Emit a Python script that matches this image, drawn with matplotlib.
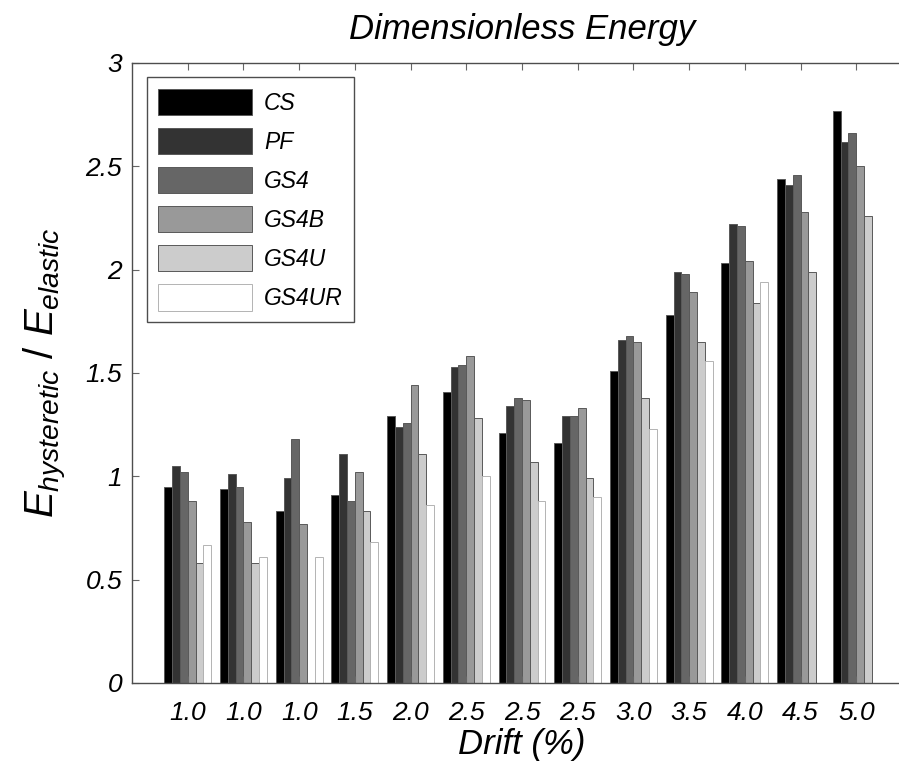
import numpy as np
import matplotlib.pyplot as plt

plt.rcParams['font.family'] = ['Liberation Sans', 'DejaVu Sans']
plt.rcParams['mathtext.fontset'] = 'custom'
plt.rcParams['mathtext.it'] = 'Liberation Sans:italic'
plt.rcParams['mathtext.rm'] = 'Liberation Sans:italic'

# Data
drift = ['1.0', '1.0', '1.0', '1.5', '2.0', '2.5', '2.5', '2.5', '3.0', '3.5', '4.0', '4.5', '5.0']
names = ['CS', 'PF', 'GS4', 'GS4B', 'GS4U', 'GS4UR']
cs    = [0.95, 0.94, 0.83, 0.91, 1.29, 1.41, 1.21, 1.16, 1.51, 1.78, 2.03, 2.44, 2.77]
pf    = [1.05, 1.01, 0.99, 1.11, 1.24, 1.53, 1.34, 1.29, 1.66, 1.99, 2.22, 2.41, 2.62]
gs4   = [1.02, 0.95, 1.18, 0.88, 1.26, 1.54, 1.38, 1.29, 1.68, 1.98, 2.21, 2.46, 2.66]
gs4b  = [0.88, 0.78, 0.77, 1.02, 1.44, 1.58, 1.37, 1.33, 1.65, 1.89, 2.04, 2.28, 2.50]
gs4u  = [0.58, 0.58, 0.00, 0.83, 1.11, 1.28, 1.07, 0.99, 1.38, 1.65, 1.84, 1.99, 2.26]
gs4ur = [0.67, 0.61, 0.61, 0.68, 0.86, 1.00, 0.88, 0.90, 1.23, 1.56, 1.94, 0.00, 0.00]
series = [cs, pf, gs4, gs4b, gs4u, gs4ur]
shades = ['0.0', '0.2', '0.4', '0.6', '0.8', '1.0']

fig = plt.figure(figsize=(8.99, 7.65), dpi=100)
ax = fig.add_axes([132 / 899, 82 / 765, 780 / 899, 620 / 765])

x = np.arange(1, len(drift) + 1)
w = 0.14
for i, (vals, c, n) in enumerate(zip(series, shades, names)):
    ec = '0.35' if i < 5 else '0.7'
    ax.bar(x + (i - 2.5) * w, vals, w, color=c, edgecolor=ec, linewidth=0.7, label=n)

ax.set_xlim(0, 14)
ax.set_ylim(0, 3)
ax.set_xticks(x)
ax.set_xticklabels(drift, fontsize=19, style='italic')
ax.set_yticks([0, 0.5, 1, 1.5, 2, 2.5, 3])
ax.set_yticklabels(['0', '0.5', '1', '1.5', '2', '2.5', '3'], fontsize=19, style='italic')
ax.tick_params(direction='in', length=5, width=0.8, top=True, right=True, color='0.4')
ax.tick_params(axis='x', pad=13)
ax.tick_params(axis='y', pad=7)
for s in ax.spines.values():
    s.set_linewidth(1.0)
    s.set_color('0.3')

ax.set_title('Dimensionless Energy', fontsize=25, style='italic', pad=17)
ax.set_xlabel('Drift (%)', fontsize=25, style='italic', labelpad=2)
ax.set_ylabel(r'$E_{hysteretic}$ / $E_{elastic}$', fontsize=29, labelpad=12)

leg = ax.legend(loc='upper left', bbox_to_anchor=(15 / 780, 0.977), borderaxespad=0,
                handlelength=4.1, handleheight=1.4, labelspacing=0.55,
                handletextpad=0.5, borderpad=0.5, fancybox=False, framealpha=1,
                edgecolor='0.3', prop={'style': 'italic', 'size': 16.5})
leg.get_frame().set_linewidth(1.0)

fig.savefig('out.png', dpi=100, facecolor='white')
